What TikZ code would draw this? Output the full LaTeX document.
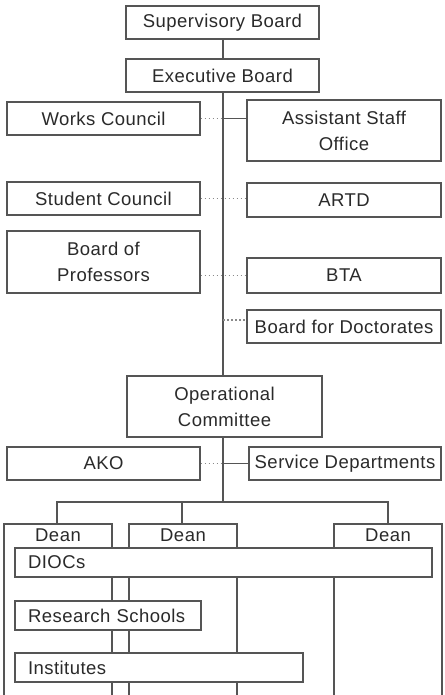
\documentclass[tikz,border=0pt]{standalone}
\usepackage{fontspec}
\setmainfont{Liberation Sans}[LetterSpace=2.5]
\definecolor{linec}{HTML}{555555}
\definecolor{dotc}{HTML}{8A8A8A}
\definecolor{txtc}{HTML}{2A2A2A}
\begin{document}
\begin{tikzpicture}[x=1pt,y=-1pt,
  boxstyle/.style={draw=linec, line width=1.1pt, fill=white, inner sep=0pt,
    text=txtc, font=\fontsize{18.5}{26}\selectfont, align=center},
  leftbox/.style={boxstyle, align=left, inner xsep=13pt},
  conn/.style={draw=linec, line width=1.1pt},
  dotline/.style={draw=dotc, line width=1.4pt, dash pattern=on 1.6pt off 2.4pt},
  deantext/.style={text=txtc, font=\fontsize{18.5}{26}\selectfont, inner sep=0pt}]
\useasboundingbox (0,0) rectangle (444,695);
\fill[white] (0,0) rectangle (444,695);
\coordinate (spine) at (223,0);
% top boxes
\node[boxstyle, minimum width=193pt, minimum height=33pt] (sup) at (222.5,22.5) {Supervisory Board};
\node[boxstyle, minimum width=193pt, minimum height=33pt] (exe) at (222.5,75.5) {Executive Board};
\node[boxstyle, minimum width=193pt, minimum height=33pt] (works) at (103.5,118.5) {Works Council};
\node[boxstyle, minimum width=194pt, minimum height=61pt] (asst) at (344,130.5) {Assistant Staff\\Office};
\node[boxstyle, minimum width=193pt, minimum height=33pt] (stud) at (103.5,198.5) {Student Council};
\node[boxstyle, minimum width=194pt, minimum height=34pt] (artd) at (344,200) {ARTD};
\node[boxstyle, minimum width=193pt, minimum height=62pt] (prof) at (103.5,262) {Board of\\Professors};
\node[boxstyle, minimum width=194pt, minimum height=35pt] (bta) at (344,275.5) {BTA};
\node[boxstyle, minimum width=194pt, minimum height=33pt] (bfd) at (344,326.5) {Board for Doctorates};
\node[boxstyle, minimum width=195pt, minimum height=61pt] (opc) at (224.5,406.5) {Operational\\Committee};
\node[boxstyle, minimum width=193pt, minimum height=33pt] (ako) at (103.5,463.5) {AKO};
\node[boxstyle, minimum width=192pt, minimum height=33pt] (serv) at (345,463.5) {Service Departments};
% spine connectors
\draw[conn] (sup.south -| spine) -- (exe.north -| spine);
\draw[conn] (exe.south -| spine) -- (opc.north -| spine);
\coordinate (busc) at (223,502);
\draw[conn] (opc.south -| spine) -- (busc);
% side links
\draw[dotline] (works.east) -- (works.east -| spine);
\draw[conn] (works.east -| spine) -- (asst.west |- works.east);
\draw[dotline] (stud.east) -- (artd.west |- stud.east);
\draw[dotline] (prof.east |- bta.west) -- (bta.west);
\coordinate (bfdlink) at (223,320);
\draw[dotline] (bfdlink) -- (bfdlink -| bfd.west);
\draw[dotline] (ako.east) -- (ako.east -| spine);
\draw[conn] (ako.east -| spine) -- (serv.west);
% dean boxes (open at the bottom)
\coordinate (dt1) at (57,524);
\coordinate (dt2) at (182,524);
\coordinate (dt3) at (388,524);
\draw[conn] (4,696) |- (112,524) -- (112,696);
\draw[conn] (129,696) |- (237,524) -- (237,696);
\draw[conn] (334,696) |- (442,524) -- (442,696);
\node[deantext] (dean1) at (58,535) {Dean};
\node[deantext] (dean2) at (183,535) {Dean};
\node[deantext] (dean3) at (388,535) {Dean};
\draw[conn] (dt1) |- (busc) -| (dt3);
\draw[conn] (dt2 |- busc) -- (dt2);
% cross-cutting boxes
\node[leftbox, text width=391pt, minimum height=29pt] (dioc) at (223.5,562.5) {DIOCs};
\node[leftbox, text width=160pt, minimum height=29pt] (rs) at (108,615.5) {Research Schools};
\node[leftbox, text width=262pt, minimum height=29pt] (inst) at (159,667.5) {Institutes};
\end{tikzpicture}
\end{document}
